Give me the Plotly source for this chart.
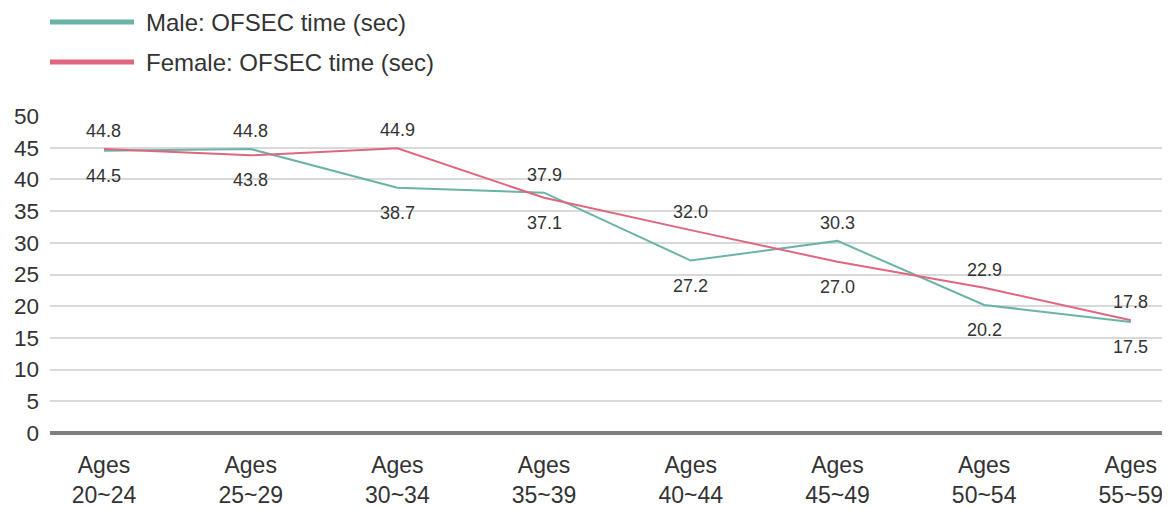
import plotly.graph_objects as go

categories = ["Ages<br>20~24", "Ages<br>25~29", "Ages<br>30~34", "Ages<br>35~39",
              "Ages<br>40~44", "Ages<br>45~49", "Ages<br>50~54", "Ages<br>55~59"]
male = [44.5, 44.8, 38.7, 37.9, 27.2, 30.3, 20.2, 17.5]
female = [44.8, 43.8, 44.9, 37.1, 32.0, 27.0, 22.9, 17.8]
y_ticks = [0, 5, 10, 15, 20, 25, 30, 35, 40, 45, 50]

male_name = "Male: OFSEC time (sec)"
female_name = "Female: OFSEC time (sec)"
male_color = "#6ab3a7"
female_color = "#e0667f"
text_color = "#333333"

fig = go.Figure()
fig.add_trace(go.Scatter(x=categories, y=male, mode="lines", name=male_name,
                         line=dict(color=male_color, width=2), showlegend=False))
fig.add_trace(go.Scatter(x=categories, y=female, mode="lines", name=female_name,
                         line=dict(color=female_color, width=2), showlegend=False))

# value labels: the higher series labelled above, the lower below
for series, other in [(male, female), (female, male)]:
    for cat, v, o in zip(categories, series, other):
        above = v >= o
        fig.add_annotation(x=cat, y=v, text=f"{v:.1f}", showarrow=False,
                           yshift=18 if above else -25, yanchor="middle", xanchor="center",
                           font=dict(size=18, color=text_color, family="Liberation Sans"))

# manual legend
for yy, col, nm in [(1.2965, male_color, male_name), (1.170, female_color, female_name)]:
    fig.add_shape(type="line", xref="paper", yref="paper", x0=0, x1=0.075, y0=yy, y1=yy,
                  line=dict(color=col, width=5))
    fig.add_annotation(xref="paper", yref="paper", x=0.084, y=yy, xanchor="left", yanchor="middle",
                       text=nm, showarrow=False,
                       font=dict(size=24, color=text_color, family="Liberation Sans"))

fig.update_layout(
    width=1162, height=500,
    margin=dict(l=42, r=0, t=108, b=75),
    paper_bgcolor="white", plot_bgcolor="white",
    font=dict(family="Liberation Sans", color=text_color),
    xaxis=dict(range=[-0.368, 7.267], showgrid=False, showline=False, zeroline=False,
               automargin=False,
               tickfont=dict(size=23, color=text_color, family="Liberation Sans"),
               ticks="", ticklabelstandoff=16),
    yaxis=dict(range=[0, 50], tickvals=y_ticks, showgrid=True, gridcolor="#d9d9d9", gridwidth=2,
               zeroline=True, zerolinecolor="#808080", zerolinewidth=4, showline=False,
               automargin=False,
               tickfont=dict(size=22.5, color=text_color, family="Liberation Sans"),
               ticks="", ticklabelstandoff=10),
)

fig.write_html("out.html")
